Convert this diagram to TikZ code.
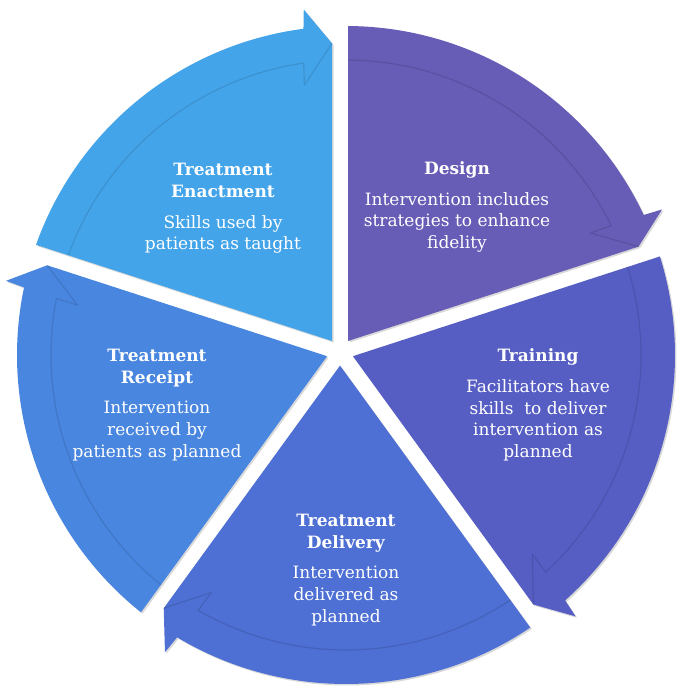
\documentclass[tikz,border=0pt]{standalone}
\usepackage{fontspec}
\setmainfont{DejaVu Serif}
\usepackage{tikz}
\usetikzlibrary{shadows}

\definecolor{designcol}{RGB}{103,92,182}
\definecolor{trainingcol}{RGB}{86,94,196}
\definecolor{deliverycol}{RGB}{78,111,211}
\definecolor{receiptcol}{RGB}{73,134,223}
\definecolor{enactcol}{RGB}{68,164,233}

\tikzset{
  segment/.style={drop shadow={opacity=0.3, shadow xshift=1.5pt, shadow yshift=-1.5pt}},
  bandline/.style={draw=black, opacity=0.11, line width=1.2pt, line join=round},
  seglabel/.style={text=white, align=center, inner sep=0pt, font=\fontsize{17}{21.7}\selectfont}
}

\begin{document}
\begin{tikzpicture}[x=1pt, y=1pt]
      \useasboundingbox (0, 0) rectangle (685, 694);
      \begin{scope}[shift={(346, 339)}]
        \fill[segment, fill=designcol] (2, 14) -- (89.65:329pt) arc[start angle=89.65, end angle=25.19, radius=329pt] -- (24.73:348pt) -- (20.33:312pt) -- cycle;
        \draw[bandline] (89.61:295pt) arc[start angle=89.61, end angle=26.00, radius=295pt] -- (26.53:273pt) -- (20.33:312pt);
        \fill[segment, fill=trainingcol] (6.9, -1.2) -- (17.43:329pt) arc[start angle=17.43, end angle=-48.24, radius=329pt] -- (-48.70:348pt) -- (-53.10:312pt) -- cycle;
        \draw[bandline] (17.36:295pt) arc[start angle=17.36, end angle=-47.43, radius=295pt] -- (-46.90:273pt) -- (-53.10:312pt);
        \fill[segment, fill=deliverycol] (-6, -10.6) -- (-55.93:329pt) arc[start angle=-55.93, end angle=-120.89, radius=329pt] -- (-121.35:348pt) -- (-125.75:312pt) -- cycle;
        \draw[bandline] (-56.15:295pt) arc[start angle=-56.15, end angle=-120.08, radius=295pt] -- (-119.55:273pt) -- (-125.75:312pt);
        \fill[segment, fill=receiptcol] (-18.9, -1.2) -- (-128.55:329pt) arc[start angle=-128.55, end angle=-191.85, radius=329pt] -- (-192.31:348pt) -- (-196.71:312pt) -- cycle;
        \draw[bandline] (-128.84:295pt) arc[start angle=-128.84, end angle=-191.04, radius=295pt] -- (-190.51:273pt) -- (-196.71:312pt);
        \fill[segment, fill=enactcol] (-14, 14) -- (160.43:329pt) arc[start angle=160.43, end angle=97.43, radius=329pt] -- (96.97:348pt) -- (92.57:312pt) -- cycle;
        \draw[bandline] (160.25:295pt) arc[start angle=160.25, end angle=98.24, radius=295pt] -- (98.77:273pt) -- (92.57:312pt);
      \end{scope}
      \node[seglabel] (design) at (457, 487) {\textbf{Design}\\[9pt]Intervention includes\\strategies to enhance\\fidelity};
      \node[seglabel] (training) at (538, 289) {\textbf{Training}\\[9pt]Facilitators have\\skills\ \ to deliver\\intervention as\\planned};
      \node[seglabel] (delivery) at (346, 124) {\textbf{Treatment}\\\textbf{Delivery}\\[9pt]Intervention\\delivered as\\planned};
      \node[seglabel] (receipt) at (157, 289) {\textbf{Treatment}\\\textbf{Receipt}\\[9pt]Intervention\\received by\\patients as planned};
      \node[seglabel] (enactment) at (223, 485.5) {\textbf{Treatment}\\\textbf{Enactment}\\[9pt]Skills used by\\patients as taught};
    \end{tikzpicture}
\end{document}
